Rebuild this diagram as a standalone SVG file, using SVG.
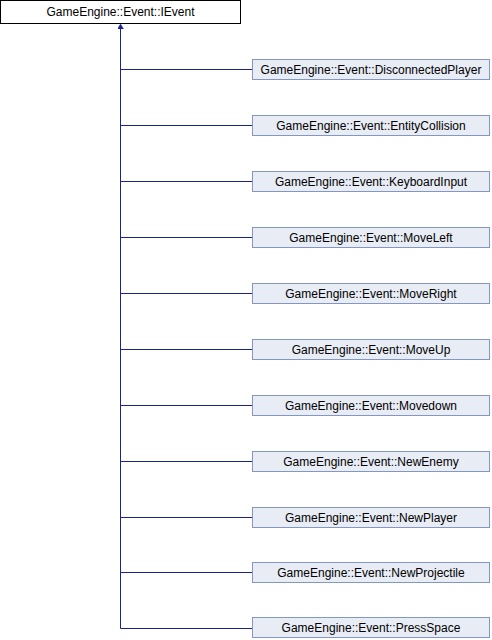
<svg xmlns="http://www.w3.org/2000/svg" width="492" height="640" viewBox="0 0 492 640">
<style>
.n rect{fill:#E8ECF5;stroke:#8496C2;stroke-width:1}
.r rect{fill:#FFFFFF;stroke:#000000;stroke-width:1}
text{font-family:"Liberation Sans",Arial,sans-serif;font-size:12px;fill:#000;text-anchor:middle}
.e{fill:none;stroke:#1A2296;stroke-width:1}
</style>
<defs>
<marker id="ah" markerWidth="8" markerHeight="8" refX="0" refY="3" orient="auto" markerUnits="userSpaceOnUse">
<path d="M0,0 L5,3 L0,6 Z" fill="#1A2296" stroke="#1A2296" stroke-width="0.5"/>
</marker>
</defs>
<g id="edges">
<path class="e" d="M120.5,628.5 V29" marker-end="url(#ah)"/>
<path class="e" d="M120.5,69.5 H252"/>
<path class="e" d="M120.5,125.5 H252"/>
<path class="e" d="M120.5,181.5 H252"/>
<path class="e" d="M120.5,237.5 H252"/>
<path class="e" d="M120.5,293.5 H252"/>
<path class="e" d="M120.5,349.5 H252"/>
<path class="e" d="M120.5,405.5 H252"/>
<path class="e" d="M120.5,461.5 H252"/>
<path class="e" d="M120.5,517.5 H252"/>
<path class="e" d="M120.5,572.5 H252"/>
<path class="e" d="M120.5,628.5 H252"/>
</g>
<g id="IEvent" class="r"><rect x="0.5" y="0.5" width="240" height="23"/><text x="120.5" y="16">GameEngine::Event::IEvent</text></g>
<g id="DisconnectedPlayer" class="n"><rect x="252.5" y="59.5" width="237" height="20"/><text x="371" y="73.5">GameEngine::Event::DisconnectedPlayer</text></g>
<g id="EntityCollision" class="n"><rect x="252.5" y="115.5" width="237" height="20"/><text x="371" y="129.5">GameEngine::Event::EntityCollision</text></g>
<g id="KeyboardInput" class="n"><rect x="252.5" y="171.5" width="237" height="20"/><text x="371" y="185.5">GameEngine::Event::KeyboardInput</text></g>
<g id="MoveLeft" class="n"><rect x="252.5" y="227.5" width="237" height="20"/><text x="371" y="241.5">GameEngine::Event::MoveLeft</text></g>
<g id="MoveRight" class="n"><rect x="252.5" y="283.5" width="237" height="20"/><text x="371" y="297.5">GameEngine::Event::MoveRight</text></g>
<g id="MoveUp" class="n"><rect x="252.5" y="339.5" width="237" height="20"/><text x="371" y="353.5">GameEngine::Event::MoveUp</text></g>
<g id="Movedown" class="n"><rect x="252.5" y="395.5" width="237" height="20"/><text x="371" y="409.5">GameEngine::Event::Movedown</text></g>
<g id="NewEnemy" class="n"><rect x="252.5" y="451.5" width="237" height="20"/><text x="371" y="465.5">GameEngine::Event::NewEnemy</text></g>
<g id="NewPlayer" class="n"><rect x="252.5" y="507.5" width="237" height="20"/><text x="371" y="521.5">GameEngine::Event::NewPlayer</text></g>
<g id="NewProjectile" class="n"><rect x="252.5" y="562.5" width="237" height="20"/><text x="371" y="576.5">GameEngine::Event::NewProjectile</text></g>
<g id="PressSpace" class="n"><rect x="252.5" y="617.5" width="237" height="20"/><text x="371" y="631.5">GameEngine::Event::PressSpace</text></g>
</svg>
